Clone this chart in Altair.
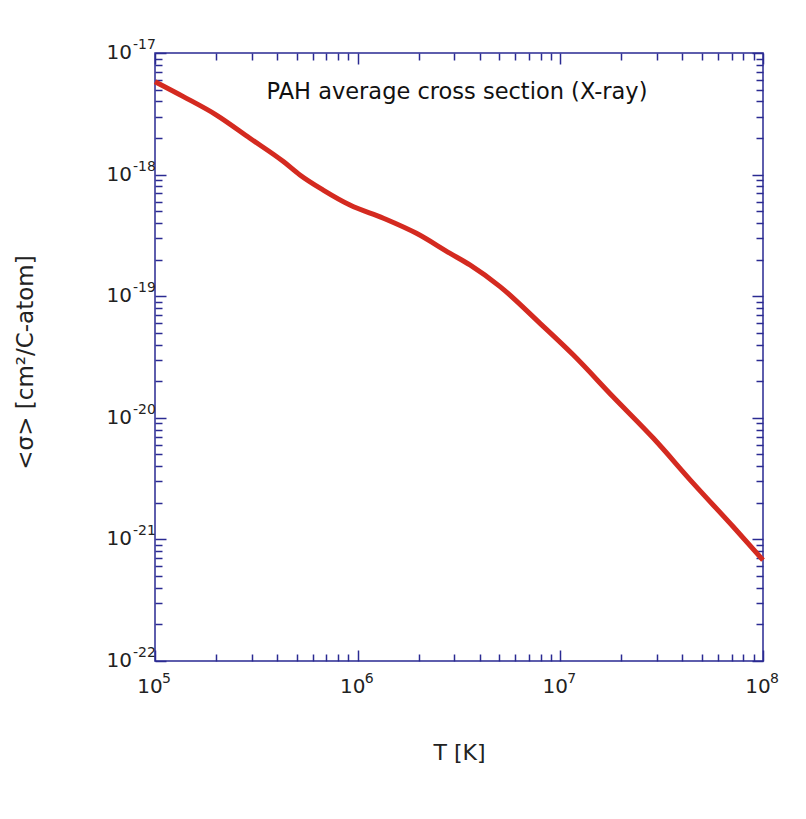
import altair as alt
import pandas as pd

# ---- data ----
T_K = [1.0e5, 1.38e5, 2.01e5, 2.94e5, 4.30e5, 5.19e5, 6.76e5, 9.16e5,
       1.34e6, 1.95e6, 2.86e6, 3.58e6, 5.04e6, 7.94e6, 1.16e7, 1.82e7,
       2.88e7, 4.53e7, 7.13e7, 1.0e8]
sigma = [5.81e-18, 4.38e-18, 3.09e-18, 1.99e-18, 1.28e-18, 9.93e-19, 7.46e-19,
         5.62e-19, 4.38e-19, 3.29e-19, 2.25e-19, 1.81e-19, 1.20e-19, 5.98e-20,
         3.28e-20, 1.49e-20, 6.78e-21, 2.89e-21, 1.27e-21, 6.76e-22]

x_exponents = [5, 6, 7, 8]
y_exponents = [-22, -21, -20, -19, -18, -17]
label_base = "10"

annotation = "PAH average cross section (X-ray)"
x_title = "T [K]"
y_title = "<σ> [cm²/C-atom]"

df = pd.DataFrame({"T": T_K, "sigma": sigma})
xlab = pd.DataFrame({"T": [10.0 ** e for e in x_exponents],
                     "base": [label_base] * len(x_exponents),
                     "exp": [str(e) for e in x_exponents]})
ylab = pd.DataFrame({"sigma": [10.0 ** e for e in y_exponents],
                     "base": [label_base] * len(y_exponents),
                     "exp": [str(e) for e in y_exponents]})

FONT = "DejaVu Sans"
BLUE = "#2a2a92"
RED = "#d42a20"
TXT = "#222222"
W = H = 608

x_major = [10.0 ** e for e in x_exponents]
y_major = [10.0 ** e for e in y_exponents]
x_all = [k * 10.0 ** e for e in x_exponents[:-1] for k in range(1, 10)] + [x_major[-1]]
y_all = [k * 10.0 ** e for e in y_exponents[:-1] for k in range(1, 10)] + [y_major[-1]]

major_test = "abs(log(datum.value)/LN10 - round(log(datum.value)/LN10)) < 0.000001"
tick_size = {"condition": {"test": major_test, "value": 11}, "value": 7}

xscale = alt.Scale(type="log", domain=[1e5, 1e8], nice=False)
yscale = alt.Scale(type="log", domain=[1e-22, 1e-17], nice=False)


def tick_axis(orient, values):
    return alt.Axis(orient=orient, offset=-W, values=values, labels=False,
                    domain=False, grid=False, tickColor=BLUE, tickWidth=1.5,
                    tickSize=tick_size, title=None)


# main line carrying the axis titles
line = alt.Chart(df).mark_line(color=RED, strokeWidth=5, interpolate="monotone").encode(
    x=alt.X("T:Q", scale=xscale,
            axis=alt.Axis(orient="bottom", values=x_major, ticks=False, domain=False,
                          grid=False, labels=False,
                          title=x_title, titleFont=FONT, titleFontSize=22,
                          titleFontWeight="normal", titleColor=TXT,
                          titleY=91, titleBaseline="middle")),
    y=alt.Y("sigma:Q", scale=yscale,
            axis=alt.Axis(orient="left", values=y_major, ticks=False, domain=False,
                          grid=False, labels=False,
                          title=y_title, titleFont=FONT, titleFontSize=23,
                          titleFontWeight="normal", titleColor=TXT,
                          titleX=-130, titleY=H / 2 + 5, titleBaseline="middle")),
)

# inward ticks: bottom & left edges
ticks1 = alt.Chart(df).mark_line(opacity=0).encode(
    x=alt.X("T:Q", scale=xscale, axis=tick_axis("top", x_all)),
    y=alt.Y("sigma:Q", scale=yscale, axis=tick_axis("right", y_all)),
)
# inward ticks: top & right edges
ticks2 = alt.Chart(df).mark_line(opacity=0).encode(
    x=alt.X("T:Q", scale=xscale, axis=tick_axis("bottom", x_all)),
    y=alt.Y("sigma:Q", scale=yscale, axis=tick_axis("left", y_all)),
)

# tick labels with real superscripts
xbase = alt.Chart(xlab).mark_text(font=FONT, fontSize=20, color=TXT, align="center",
                                  baseline="middle", dx=-5).encode(
    x=alt.X("T:Q", scale=xscale, axis=None), y=alt.value(H + 26), text="base:N")
xexp = alt.Chart(xlab).mark_text(font=FONT, fontSize=14, color=TXT, align="left",
                                 baseline="middle", dx=7).encode(
    x=alt.X("T:Q", scale=xscale, axis=None), y=alt.value(H + 18), text="exp:N")
ybase = alt.Chart(ylab).mark_text(font=FONT, fontSize=20, color=TXT, align="right",
                                  baseline="middle").encode(
    x=alt.value(-23), y=alt.Y("sigma:Q", scale=yscale, axis=None), text="base:N")
yexp = alt.Chart(ylab).mark_text(font=FONT, fontSize=14, color=TXT, align="left",
                                 baseline="middle", dy=-8).encode(
    x=alt.value(-22), y=alt.Y("sigma:Q", scale=yscale, axis=None), text="exp:N")

note = alt.Chart(pd.DataFrame({"t": [annotation]})).mark_text(
    font=FONT, fontSize=22.5, color="#111111", align="center", baseline="middle"
).encode(x=alt.value(302), y=alt.value(39), text="t:N")

chart = alt.layer(line, ticks1, ticks2, xbase, xexp, ybase, yexp, note).resolve_axis(
    x="independent", y="independent"
).properties(
    width=W, height=H,
    autosize=alt.AutoSizeParams(type="none"),
    padding={"left": 147, "top": 45, "right": 30, "bottom": 150},
).configure_view(stroke=BLUE, strokeWidth=1.5)

chart.save("out.html", embed_options={"renderer": "svg", "actions": False})
